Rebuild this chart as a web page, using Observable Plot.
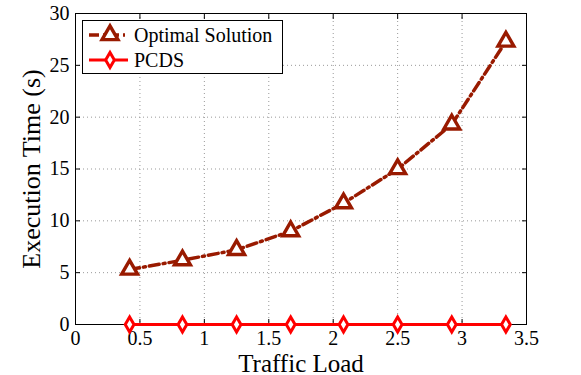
<!DOCTYPE html>
<html>
<head>
<meta charset="utf-8">
<script src="https://cdn.jsdelivr.net/npm/d3@7"></script>
<script src="https://cdn.jsdelivr.net/npm/@observablehq/plot@0.6"></script>
<style>
  html, body { margin: 0; padding: 0; background: white; }
  #wrap { position: relative; width: 581px; height: 375px; font-family: "Liberation Serif", "Times New Roman", Times, serif; }
  #wrap svg, #wrap svg text { font-family: "Liberation Serif", "Times New Roman", Times, serif !important; }
  #wrap svg [aria-label="y-axis label"] text { font-size: 26px; }
  #wrap svg [aria-label="x-axis label"] text { font-size: 25px; }
  #legend { position: absolute; left: 82px; top: 20px; }
</style>
</head>
<body>
<div id="wrap"></div>
<script>
// ---- data ----
const trafficLoad = [0.42, 0.83, 1.25, 1.67, 2.08, 2.5, 2.92, 3.34];
const optimalTime = [5.3, 6.2, 7.2, 9.0, 11.7, 15.0, 19.3, 27.3];
const pcdsTime = [0, 0, 0, 0, 0, 0, 0, 0];
const seriesNames = ["Optimal Solution", "PCDS"];
const xTicks = [0, 0.5, 1, 1.5, 2, 2.5, 3, 3.5];
const yTicks = [0, 5, 10, 15, 20, 25, 30];
const xLabel = "Traffic Load";
const yLabel = "Execution Time (s)";

const colors = ["#991a00", "#ff0000"];
const symbols = ["triangle", "diamond"];
const dashes = ["10,4,2,4", null];
const radii = [5.9, 4.6];
const markerStroke = [3.4, 3];

const optimalRows = trafficLoad.map((x, i) => ({x, y: optimalTime[i]}));
const pcdsRows = trafficLoad.map((x, i) => ({x, y: pcdsTime[i]}));

const serif = "'Liberation Serif', 'Times New Roman', Times, serif";

const chart = Plot.plot({
  width: 581,
  height: 375,
  marginLeft: 75,
  marginRight: 55,
  marginTop: 13,
  marginBottom: 51,
  style: {fontFamily: serif, fontSize: "20px", background: "white", color: "black", overflow: "visible"},
  x: {domain: [0, 3.5]},
  y: {domain: [0, 30]},
  marks: [
    Plot.gridX(xTicks.slice(1, -1), {stroke: "#999", strokeOpacity: 1, strokeDasharray: "1,3"}),
    Plot.gridY(yTicks.slice(1, -1), {stroke: "#999", strokeOpacity: 1, strokeDasharray: "1,3"}),
    Plot.frame({stroke: "black", strokeWidth: 1}),
    // labels
    Plot.axisX({ticks: xTicks, tickSize: 0, tickPadding: 6, tickFormat: d => String(d), label: xLabel, labelAnchor: "center", labelOffset: 47, labelArrow: "none", fontSize: 20}),
    Plot.axisY({ticks: yTicks, tickSize: 0, tickPadding: 6, tickFormat: d => String(d), label: yLabel, labelAnchor: "center", labelOffset: 54, labelArrow: "none", fontSize: 20}),
    // inward ticks on all four sides
    Plot.axisX({ticks: xTicks, anchor: "bottom", tickSize: -5, tickFormat: () => "", label: null}),
    Plot.axisX({ticks: xTicks, anchor: "top", tickSize: -5, tickFormat: () => "", label: null}),
    Plot.axisY({ticks: yTicks, anchor: "left", tickSize: -5, tickFormat: () => "", label: null}),
    Plot.axisY({ticks: yTicks, anchor: "right", tickSize: -5, tickFormat: () => "", label: null}),
    // series
    Plot.line(optimalRows, {x: "x", y: "y", stroke: colors[0], strokeWidth: 3.5, strokeDasharray: dashes[0]}),
    Plot.line(pcdsRows, {x: "x", y: "y", stroke: colors[1], strokeWidth: 3}),
    Plot.dot(optimalRows, {x: "x", y: "y", symbol: symbols[0], r: radii[0], fill: "white", stroke: colors[0], strokeWidth: markerStroke[0]}),
    Plot.dot(pcdsRows, {x: "x", y: "y", symbol: symbols[1], r: radii[1], fill: "white", stroke: colors[1], strokeWidth: markerStroke[1]})
  ]
});
document.getElementById("wrap").appendChild(chart);

// ---- legend overlay ----
const lw = 201, lh = 54;
const leg = d3.select("#wrap").append("svg").attr("id", "legend").attr("width", lw).attr("height", lh);
leg.append("rect").attr("x", 0.5).attr("y", 0.5).attr("width", lw - 1).attr("height", lh - 1)
  .attr("fill", "white").attr("stroke", "black");
const symFns = {triangle: d3.symbolTriangle, diamond: d3.symbolDiamond};
seriesNames.forEach((name, i) => {
  const cy = 15 + i * 25;
  leg.append("line").attr("x1", 7).attr("x2", 46).attr("y1", cy).attr("y2", cy)
    .attr("stroke", colors[i]).attr("stroke-width", i === 0 ? 3.5 : 3)
    .attr("stroke-dasharray", dashes[i]);
  leg.append("path").attr("d", d3.symbol(symFns[symbols[i]], Math.PI * radii[i] * radii[i])())
    .attr("transform", `translate(28,${cy})`)
    .attr("fill", "white").attr("stroke", colors[i]).attr("stroke-width", markerStroke[i]);
  leg.append("text").attr("x", 52).attr("y", cy).attr("dy", "0.35em")
    .attr("font-family", serif).attr("font-size", 20).attr("fill", "black").text(name);
});
</script>
</body>
</html>
